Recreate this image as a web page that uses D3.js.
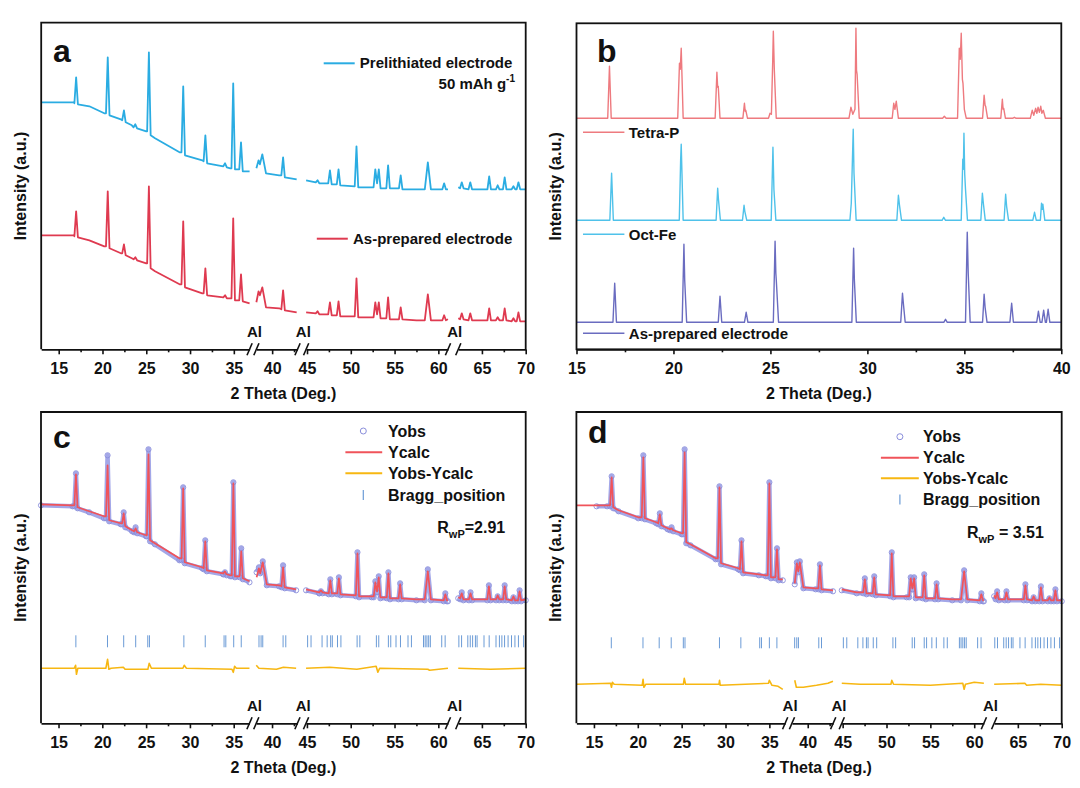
<!DOCTYPE html>
<html><head><meta charset="utf-8">
<script src="https://cdn.jsdelivr.net/npm/d3@7"></script>
<style>
body{margin:0;background:#fff}
text{font-family:"Liberation Sans",Arial,Helvetica,sans-serif;font-weight:bold;fill:#111}
</style>
</head><body><script>
// ---------- DATA ----------
// broken 2θ axis segments (panels a, c, d)
const thetaSegments = [[13,36.8],[38.2,42.9],[44.9,61.1],[62.3,70]];
const brokenMajorTicks = [15,20,25,30,35,40,45,50,55,60,65,70];
const brokenMinorTicks = [17.5,22.5,27.5,32.5,42.5,47.5,52.5,57.5,67.5];
const bMajorTicks = [15,20,25,30,35,40];
const bMinorTicks = [17.5,22.5,27.5,32.5,37.5];
const breakLabels = ["Al","Al","Al"];

// series: [2θ, I] = vertex ; [2θ, top, baseLeft, baseRight, halfWidth?] = peak
const aPrelithiated = [
[13,247],[16.7,247],[16.99,272,246,245],[18.5,243],[20.2,236],[20.6,292,236,234],[22.1,230],[22.45,239,229,227],[23.35,224],[23.75,225,222,221],[25.0,218],[25.3,297,218,214],[26.0,211],[28.8,197],[29.22,263,197,194],[31.4,189],[31.75,214,188,186],[33.8,183],[34.0,186,183,182],[34.6,181],[34.93,266,181,180],[35.82,207,180,178],[36.8,178],
[38.2,181],[38.45,189],[38.6,185],[38.88,195],[39.3,176],[40.8,174],[41.25,192,174,172],[42.8,170],
[44.9,169],[46.0,167],[46.2,169,167,166],[47.62,179,166,165],[48.6,180,165,164],[50.65,203,163,162],[52.4,162],[52.8,180,162,166],[53.2,180,166,161],[54.26,184,161,161],[55.7,174,161,160],[57.5,160],[58.8,187,160,160,0.35],[60.66,166,160,160],[61.1,160],
[62.3,162],[62.7,167,161,161],[63.67,167,160,160],[65.83,173,160,160],[66.8,164,160,160],[67.6,172,160,160],[68.6,163,160,160],[69.17,167,160,160],[70,160]
];
const aAsPrepared = [
[13,114],[16.7,114],[16.99,138,113,112],[18.5,109],[20.2,103],[20.6,158,103,101],[22.1,96],[22.45,105,96,94],[23.35,91],[23.75,92,90,89],[25.0,86],[25.3,163,86,81],[26.0,78],[28.8,65],[29.22,128,65,62],[31.4,56],[31.75,81,56,54],[33.8,52],[34.0,54,52,51],[34.6,51],[34.93,131,51,49],[35.82,75,49,48],[36.8,46],
[38.2,47],[38.45,58],[38.6,54],[38.88,62],[39.3,42],[40.8,41],[41.25,59,40,39],[42.8,37],
[44.9,37],[46.0,36],[46.2,38,36,35],[47.62,47,35,34],[48.6,48,34,33],[50.65,71,33,32],[52.4,32],[52.8,47,32,35],[53.2,47,35,31],[54.26,52,31,30],[55.7,42,30,30],[57.5,29],[58.8,55,29,29,0.35],[60.66,34,29,29],[61.1,30],
[62.3,31],[62.7,36,30,30],[63.67,36,29,29],[65.83,41,29,29],[66.8,32,29,29],[67.6,41,29,29],[68.6,31,28,28],[69.17,37,28,28],[70,28]
];

const bTetraP = [
[15,231],[16.70,283,231,231],[20.22,231],[20.31,286],[20.35,280],[20.40,301],[20.5,231],
[22.15,231],[22.24,277],[22.28,262],[22.31,263],[22.4,231],[23.58,231],[23.66,246],[23.7,238],[23.73,239],[23.82,231],
[24.9,231],[24.98,236],[25.05,235],[25.12,290],[25.15,318],[25.2,280],[25.3,231],
[29.05,231],[29.15,242],[29.25,235],[29.36,240],[29.41,321],[29.44,279],[29.47,275],[29.58,231],
[31.28,231],[31.36,246],[31.42,240],[31.49,248],[31.6,231],[33.97,233,231,231],
[34.65,231],[34.74,301],[34.79,290],[34.84,316],[34.9,270],[34.93,266],[35.0,240],[35.1,231],
[35.94,231],[36.02,254],[36.07,244],[36.1,243],[36.2,231],[36.88,231],[36.96,250],[37.0,240],[37.03,241],[37.12,231],
[37.58,232,231,231],[38.4,231],[38.5,239],[38.58,234],[38.68,241],[38.74,236],[38.8,242],[38.87,237],[38.94,243],[39.0,236],[39.07,239],[39.18,231],[40,231]
];
const bOctFe = [
[15,129],[16.81,176,129,129],[20.3,129],[20.37,189],[20.4,205],[20.44,175],[20.5,129],
[22.2,129],[22.28,161],[22.32,150],[22.42,129],[23.56,129],[23.64,144],[23.68,138],[23.78,129],
[25.04,129],[25.13,202],[25.18,160],[25.28,129],[29.1,129],[29.17,146],[29.27,220],[29.31,176],[29.42,129],
[31.52,129],[31.6,154],[31.65,145],[31.76,129],[33.94,132,129,129],
[34.84,129],[34.92,190],[34.95,180],[34.98,216],[35.02,175],[35.06,160],[35.16,129],
[35.85,129],[35.93,156],[35.98,146],[36.08,129],[37.05,129],[37.13,155],[37.18,143],[37.28,129],
[38.62,137,129,129],[38.92,129],[38.98,146],[39.02,140],[39.05,145],[39.15,129],[40,129]
];
const bAsPrepared = [
[15,27],[16.97,66,27,27],[20.45,27],[20.54,105],[20.58,69],[20.68,27],[22.4,53,27,27],[23.75,37,27,27],
[25.15,27],[25.24,108],[25.28,76],[25.3,70],[25.42,27],[29.2,27],[29.29,101],[29.33,69],[29.43,27],
[31.72,27],[31.81,56],[31.86,45],[31.95,27],[34.03,30,27,27],[35.06,27],[35.15,117],[35.2,76],[35.3,27],
[35.94,27],[36.02,55],[36.07,42],[36.17,27],[37.44,46,27,27],[38.82,38,27,27],[39.09,39,27,27],[39.32,40,27,27],[40,27]
];

const cYobs = [
[13,218],[16.6,217],[16.99,250,217,215],[18.5,211],[20.2,205],[20.6,268,205,202],[22.1,199],[22.44,211,199,196],[23.4,192],[23.8,196,191,190],[25.0,187],[25.27,274,187,182],[26.0,179],[28.8,163],[29.23,236,163,160],[31.4,155],[31.75,183,154,152],[33.8,149],[34.0,151,149,148],[34.6,147],[34.96,241,147,146],[35.86,175,146,144],[36.8,141],
[38.24,151],[38.5,156],[38.65,150],[38.94,162],[39.4,138],[40.8,137],[41.26,158,136,135],[42.75,133],
[44.9,133],[46.4,130],[46.6,132,130,130],[47.67,144,129,129],[48.65,146,129,128],[50.77,171,127,126],[52.4,126],[52.81,142,126,131],[53.2,147,131,125],[54.3,151,125,124],[55.64,140,124,124],[57.5,123],[58.8,154,123,123,0.35],[60.8,130,122,122],[61.1,122],
[62.3,125],[62.7,131,124,123],[63.7,131,123,123],[65.8,138,123,123],[66.8,127,123,123],[67.6,138,123,123],[68.6,126,122,122],[69.3,133,122,122],[70,123]
];
const cYcalc = [
[13,219],[16.6,218],[16.99,249,218,216],[18.5,212],[20.2,207],[20.6,258,207,203],[22.1,200],[22.44,210,200,197],[23.4,193],[23.8,195,192,191],[25.0,188],[25.27,269,188,183],[26.0,180],[28.8,165],[29.23,235,165,161],[31.4,156],[31.75,182,155,153],[33.8,150],[34.0,152,150,149],[34.6,148],[34.96,240,148,147],[35.86,172,147,145],[36.8,142],
[38.24,146],[38.5,155],[38.65,150],[38.94,161],[39.4,139],[40.8,138],[41.26,156,137,136],[42.75,134],
[44.9,134],[46.4,131],[46.6,133,131,131],[47.67,143,130,130],[48.65,145,130,129],[50.77,170,128,127],[52.4,127],[52.81,141,127,132],[53.2,146,132,126],[54.3,150,126,125],[55.64,139,125,125],[57.5,124],[58.8,152,124,124,0.35],[60.8,129,123,123],[61.1,123],
[62.3,126],[62.7,130,125,124],[63.7,130,124,124],[65.8,137,124,124],[66.8,128,124,124],[67.6,137,124,124],[68.6,127,123,123],[69.3,132,123,123],[70,124]
];
const cDiff = [
[13,55],[16.8,55],[16.95,58],[17.05,49],[17.2,55],[20.4,55],[20.6,64],[20.75,54],[21.0,55],[22.4,56],[22.6,54],[23.8,54],[25.2,54],[25.35,60],[25.6,55],[29.2,55],[29.35,58],[29.6,55],[34.8,54],[34.95,51],[35.1,57],[35.3,55],[36.8,55],
[38.2,58],[38.5,55],[40.5,54],[41.3,56],[42.75,55],
[44.9,55],[47.6,56],[50.7,54],[52.9,57],[53.1,51],[53.3,55],[58.8,54],[59.0,53],[61.1,55],
[62.3,55],[66,54],[70,55]
];

const dYobs = [
[15.3,217],[16.5,217],[17.02,247,217,215],[17.8,212],[20.05,205],[20.63,268,205,204],[22.1,200],[22.51,210,199,197],[23.4,194],[23.85,196,193,192],[25.0,189],[25.34,274,189,180],[26.0,178],[28.87,164],[29.31,237,164,159],[31.45,154],[31.82,183,153,150],[33.8,148],[34.6,147],[35.0,241,147,145],[35.87,175,145,143],[36.53,143],
[38.52,139],[38.76,161],[38.92,151],[39.1,162],[39.5,135],[40.9,134],[41.39,159,134,133],[42.88,132],
[44.9,133],[46.6,130],[47.53,145,130,129],[48.6,147,129,128],[50.6,171,127,126],[52.3,126],[52.76,146,126,134],[53.15,146,134,125],[54.3,149,125,124],[55.71,140,124,124],[57.5,123],[58.85,153,123,123,0.35],[60.81,130,122,122],[61.1,122],
[62.3,127],[62.64,132,124,123],[63.7,132,123,123],[65.86,139,123,123],[66.8,126,122,122],[67.63,137,122,122],[68.6,125,122,122],[69.28,134,122,122],[70,122]
];
const dYcalc = [
[13,218],[16.5,218],[17.02,246,218,216],[17.8,213],[20.05,206],[20.63,266,206,205],[22.1,201],[22.51,209,200,198],[23.4,195],[23.85,195,194,193],[25.0,190],[25.34,271,190,181],[26.0,179],[28.87,165],[29.31,236,165,160],[31.45,155],[31.82,182,154,151],[33.8,149],[34.6,148],[35.0,240,148,146],[35.87,174,146,144],[36.53,144],
[38.52,140],[38.76,160],[38.92,152],[39.1,161],[39.5,136],[40.9,135],[41.39,158,135,134],[42.88,133],
[44.9,134],[46.6,131],[47.53,144,131,130],[48.6,146,130,129],[50.6,170,128,127],[52.3,127],[52.76,145,127,135],[53.15,145,135,126],[54.3,148,126,125],[55.71,139,125,125],[57.5,124],[58.85,152,124,124,0.35],[60.81,129,123,123],[61.1,123],
[62.3,128],[62.64,131,125,124],[63.7,131,124,124],[65.86,138,124,124],[66.8,127,123,123],[67.63,136,123,123],[68.6,126,123,123],[69.28,133,123,123],[70,123]
];
const dDiff = [
[13,39],[16.9,40],[17.0,36],[17.1,41],[17.3,39],[20.5,38],[20.6,44],[20.7,36],[20.9,39],[25.2,39],[25.3,45],[25.45,39],[29.25,39],[29.32,43],[29.4,38],[34.9,40],[35.0,43],[35.3,38],[36.0,37],[36.53,34],
[38.52,43],[38.7,36],[39.5,36],[41.0,38],[42.3,40],[42.88,42],
[44.9,40],[47.0,39],[50.5,39],[50.6,43],[50.8,39],[55,38],[58.7,40],[58.85,34],[59.0,39],[60,41],[61.1,40],
[62.3,39],[65.8,40],[66,38],[67.6,39],[70,38]
];

const braggPositions = [16.98,20.59,22.44,23.81,25.19,25.38,29.31,31.75,33.9,34.1,35.0,35.86,
38.51,38.75,38.94,41.26,41.57,
45.08,45.47,46.73,47.31,47.71,47.9,48.49,48.88,50.73,51.04,52.93,53.2,54.3,54.57,55.17,55.68,56.54,56.93,58.31,58.5,58.7,58.9,59.09,60.39,60.78,
62.37,62.68,63.39,63.67,63.94,64.26,64.45,65.24,65.83,66.61,67.0,67.28,67.59,67.99,68.38,68.77,69.17,69.76];

const aLegend = ["Prelithiated electrode","As-prepared electrode"];
const bLegend = ["Tetra-P","Oct-Fe","As-prepared electrode"];
const cdLegend = ["Yobs","Ycalc","Yobs-Ycalc","Bragg_position"];
const rwpValues = ["=2.91"," = 3.51"];

// ---------- DRAWING ----------
const W=1080,H=788;
const svg=d3.select("body").append("svg").attr("width",W).attr("height",H);

const col = {aBlue:"#2aace2",aRed:"#df3a50",bRed:"#ee7a7f",bCyan:"#4fc2ea",bPurple:"#6a6cc0",
  obs:"#8a8edb",calc:"#f0535a",diff:"#f7b712",bragg:"#6b9bd6"};

const P = {
  a:{x0:41.2,x1:525.7,y0:22.7,y1:349.3,ymax:326.6},
  b:{x0:576.5,x1:1061.3,y0:23.3,y1:349.3,ymax:326},
  c:{x0:41,x1:525.7,y0:412,y1:723.3,ymax:311.3},
  d:{x0:576.4,x1:1061.7,y0:412,y1:723.3,ymax:311.3}
};
for (const k in P){ P[k].y = d3.scaleLinear().domain([0,P[k].ymax]).range([P[k].y1,P[k].y0]); }

function expand(series, hw){
  const pts=[];
  series.forEach(e=>{
    if(e.length===2) pts.push(e);
    else { const [x,top,bl,br=bl,h=hw]=e; pts.push([x-h,bl],[x,top],[x+h,br]); }
  });
  return pts;
}
function brokenX(x0,x1){
  const gaps=[6.8,8.6,10.3];
  const span=d3.sum(thetaSegments,s=>s[1]-s[0]);
  const k=(x1-x0-d3.sum(gaps))/span;
  let pos=x0;
  return thetaSegments.map((s,i)=>{
    const r0=pos, r1=pos+(s[1]-s[0])*k; pos=r1+(gaps[i]||0);
    return {dom:s, sc:d3.scaleLinear().domain(s).range([r0,r1])};
  });
}
function segOf(segs,x){ return segs.find(s=>x>=s.dom[0]-1e-6&&x<=s.dom[1]+1e-6); }

function drawBrokenLine(p,segs,pts,color,width){
  segs.forEach(sg=>{
    const sub=pts.filter(q=>q[0]>=sg.dom[0]-1e-6&&q[0]<=sg.dom[1]+1e-6);
    if(sub.length<2) return;
    svg.append("path").attr("d",d3.line().x(d=>sg.sc(d[0])).y(d=>p.y(d[1]))(sub))
      .attr("fill","none").attr("stroke",color).attr("stroke-width",width).attr("stroke-linejoin","round");
  });
}

function styleAxis(g){
  g.selectAll("text").attr("font-size",16).attr("font-weight","bold").attr("fill","#111")
    .attr("font-family",'"Liberation Sans",Arial,sans-serif');
  g.selectAll(".tick line").attr("stroke","#111").attr("stroke-width",1.6);
  g.select(".domain").attr("stroke","#111").attr("stroke-width",1.8);
}

function frameBroken(p,segs){
  svg.append("path").attr("d",`M${p.x0},${p.y1}V${p.y0}H${p.x1}V${p.y1}`).attr("fill","none").attr("stroke","#111").attr("stroke-width",1.8);
  segs.forEach(sg=>{
    const maj=brokenMajorTicks.filter(t=>t>=sg.dom[0]&&t<=sg.dom[1]);
    const g=svg.append("g").attr("transform",`translate(0,${p.y1})`)
      .call(d3.axisBottom(sg.sc).tickValues(maj).tickSize(5).tickSizeOuter(0).tickPadding(8).tickFormat(d3.format("d")));
    styleAxis(g);
    const mn=brokenMinorTicks.filter(t=>t>=sg.dom[0]&&t<=sg.dom[1]);
    const g2=svg.append("g").attr("transform",`translate(0,${p.y1})`)
      .call(d3.axisBottom(sg.sc).tickValues(mn).tickSize(3).tickSizeOuter(0).tickFormat(""));
    g2.select(".domain").remove();
    g2.selectAll(".tick line").attr("stroke","#111").attr("stroke-width",1.6);
  });
  for(let i=0;i<segs.length-1;i++){
    const e=segs[i].sc.range()[1], s=segs[i+1].sc.range()[0];
    [e,s].forEach(cx=>{
      svg.append("line").attr("x1",cx-2.6).attr("y1",p.y1+6).attr("x2",cx+2.6).attr("y2",p.y1-6)
        .attr("stroke","#111").attr("stroke-width",1.6);
    });
    svg.append("text").attr("x",(e+s)/2+1.5).attr("y",p.y1-12).attr("text-anchor","middle")
      .attr("font-size",15).text(breakLabels[i]);
  }
}

function titles(p,letter,lx,ly){
  svg.append("text").attr("x",(p.x0+p.x1)/2).attr("y",p.y1+50).attr("text-anchor","middle").attr("font-size",16).text("2 Theta (Deg.)");
  svg.append("text").attr("transform",`translate(${p.x0-21},${(p.y0+p.y1)/2}) rotate(-90)`).attr("dy","0.36em")
    .attr("text-anchor","middle").attr("font-size",16).text("Intensity (a.u.)");
  svg.append("text").attr("x",lx).attr("y",ly).attr("font-size",32).text(letter);
}

// ---- Panel a ----
{
  const p=P.a, segs=brokenX(p.x0,p.x1);
  drawBrokenLine(p,segs,expand(aPrelithiated,0.2),col.aBlue,1.8);
  drawBrokenLine(p,segs,expand(aAsPrepared,0.2),col.aRed,1.8);
  frameBroken(p,segs);
  titles(p,"a",53,61.5);
  svg.append("line").attr("x1",323.7).attr("x2",354.7).attr("y1",63.3).attr("y2",63.3).attr("stroke",col.aBlue).attr("stroke-width",2);
  svg.append("text").attr("x",359.8).attr("y",68.3).attr("font-size",15).text(aLegend[0]);
  const t=svg.append("text").attr("x",515).attr("y",89.3).attr("font-size",15).attr("text-anchor","end");
  t.append("tspan").text("50 mAh g");
  t.append("tspan").attr("font-size",10).attr("dy",-7).text("-1");
  svg.append("line").attr("x1",316.8).attr("x2",347.8).attr("y1",238.7).attr("y2",238.7).attr("stroke",col.aRed).attr("stroke-width",2);
  svg.append("text").attr("x",353).attr("y",244).attr("font-size",15).text(aLegend[1]);
}

// ---- Panel b ----
{
  const p=P.b;
  const x=d3.scaleLinear().domain([15,40]).range([p.x0,p.x1]);
  const line=d3.line().x(d=>x(d[0])).y(d=>p.y(d[1]));
  [[bTetraP,col.bRed],[bOctFe,col.bCyan],[bAsPrepared,col.bPurple]].forEach(([s,c])=>{
    svg.append("path").attr("d",line(expand(s,0.09))).attr("fill","none").attr("stroke",c).attr("stroke-width",1.4).attr("stroke-linejoin","round");
  });
  svg.append("rect").attr("x",p.x0).attr("y",p.y0).attr("width",p.x1-p.x0).attr("height",p.y1-p.y0)
    .attr("fill","none").attr("stroke","#111").attr("stroke-width",1.8);
  const g=svg.append("g").attr("transform",`translate(0,${p.y1})`)
    .call(d3.axisBottom(x).tickValues(bMajorTicks).tickSize(5).tickSizeOuter(0).tickPadding(8).tickFormat(d3.format("d")));
  styleAxis(g);
  const g2=svg.append("g").attr("transform",`translate(0,${p.y1})`)
    .call(d3.axisBottom(x).tickValues(bMinorTicks).tickSize(3).tickSizeOuter(0).tickFormat(""));
  g2.select(".domain").remove(); g2.selectAll(".tick line").attr("stroke","#111").attr("stroke-width",1.6);
  titles(p,"b",597,61.5);
  [[132.3,137.7,col.bRed],[234.3,240,col.bCyan],[333.3,339,col.bPurple]].forEach(([ly,ty,c],i)=>{
    svg.append("line").attr("x1",583).attr("x2",624.4).attr("y1",ly).attr("y2",ly).attr("stroke",c).attr("stroke-width",1.5);
    svg.append("text").attr("x",628.8).attr("y",ty).attr("font-size",15).text(bLegend[i]);
  });
}

// ---- Panels c, d ----
function refinement(p,obs,calc,diff,braggLvl,letter,lx,ly,leg,rwp){
  const segs=brokenX(p.x0,p.x1);
  const obsPts=expand(obs,0.18);
  drawBrokenLine(p,segs,obsPts,"#a3a7e8",4.5);
  obsPts.forEach(q=>{
    const sg=segOf(segs,q[0]); if(!sg) return;
    svg.append("circle").attr("cx",sg.sc(q[0])).attr("cy",p.y(q[1])).attr("r",2.6)
      .attr("fill","none").attr("stroke",col.obs).attr("stroke-width",0.9);
  });
  drawBrokenLine(p,segs,expand(calc,0.18),col.calc,1.7);
  drawBrokenLine(p,segs,diff,col.diff,1.6);
  braggPositions.forEach(b=>{
    const sg=segOf(segs,b); if(!sg) return;
    svg.append("line").attr("x1",sg.sc(b)).attr("x2",sg.sc(b)).attr("y1",p.y(braggLvl[0])).attr("y2",p.y(braggLvl[1]))
      .attr("stroke",col.bragg).attr("stroke-width",1);
  });
  frameBroken(p,segs);
  titles(p,letter,lx,ly);
  const {cx,lx0,lx1,tx,rows,rx,ry}=leg;
  svg.append("circle").attr("cx",cx).attr("cy",rows[0]).attr("r",3).attr("fill","none").attr("stroke",col.obs).attr("stroke-width",1);
  svg.append("line").attr("x1",lx0).attr("x2",lx1).attr("y1",rows[1]).attr("y2",rows[1]).attr("stroke",col.calc).attr("stroke-width",2);
  svg.append("line").attr("x1",lx0).attr("x2",lx1).attr("y1",rows[2]).attr("y2",rows[2]).attr("stroke",col.diff).attr("stroke-width",2);
  svg.append("line").attr("x1",cx).attr("x2",cx).attr("y1",rows[3]-5).attr("y2",rows[3]+5).attr("stroke",col.bragg).attr("stroke-width",1.2);
  cdLegend.forEach((s,i)=>svg.append("text").attr("x",tx).attr("y",rows[i]+5.6).attr("font-size",16).text(s));
  const t=svg.append("text").attr("x",rx).attr("y",ry).attr("font-size",16);
  t.append("tspan").text("R");
  t.append("tspan").attr("font-size",11).attr("dy",5).text("wP");
  t.append("tspan").attr("dy",-5).text(rwp);
}
refinement(P.c,cYobs,cYcalc,cDiff,[76,88],"c",53,448,
  {cx:363.3,lx0:345.4,lx1:382.2,tx:388,rows:[431,452.3,473.3,495],rx:437.3,ry:533.3},rwpValues[0]);
refinement(P.d,dYobs,dYcalc,dDiff,[75,86],"d",588,443,
  {cx:899.9,lx0:880.9,lx1:918.8,tx:923,rows:[436.7,457.7,478.3,499.5],rx:967,ry:538.3},rwpValues[1]);
</script></body></html>
